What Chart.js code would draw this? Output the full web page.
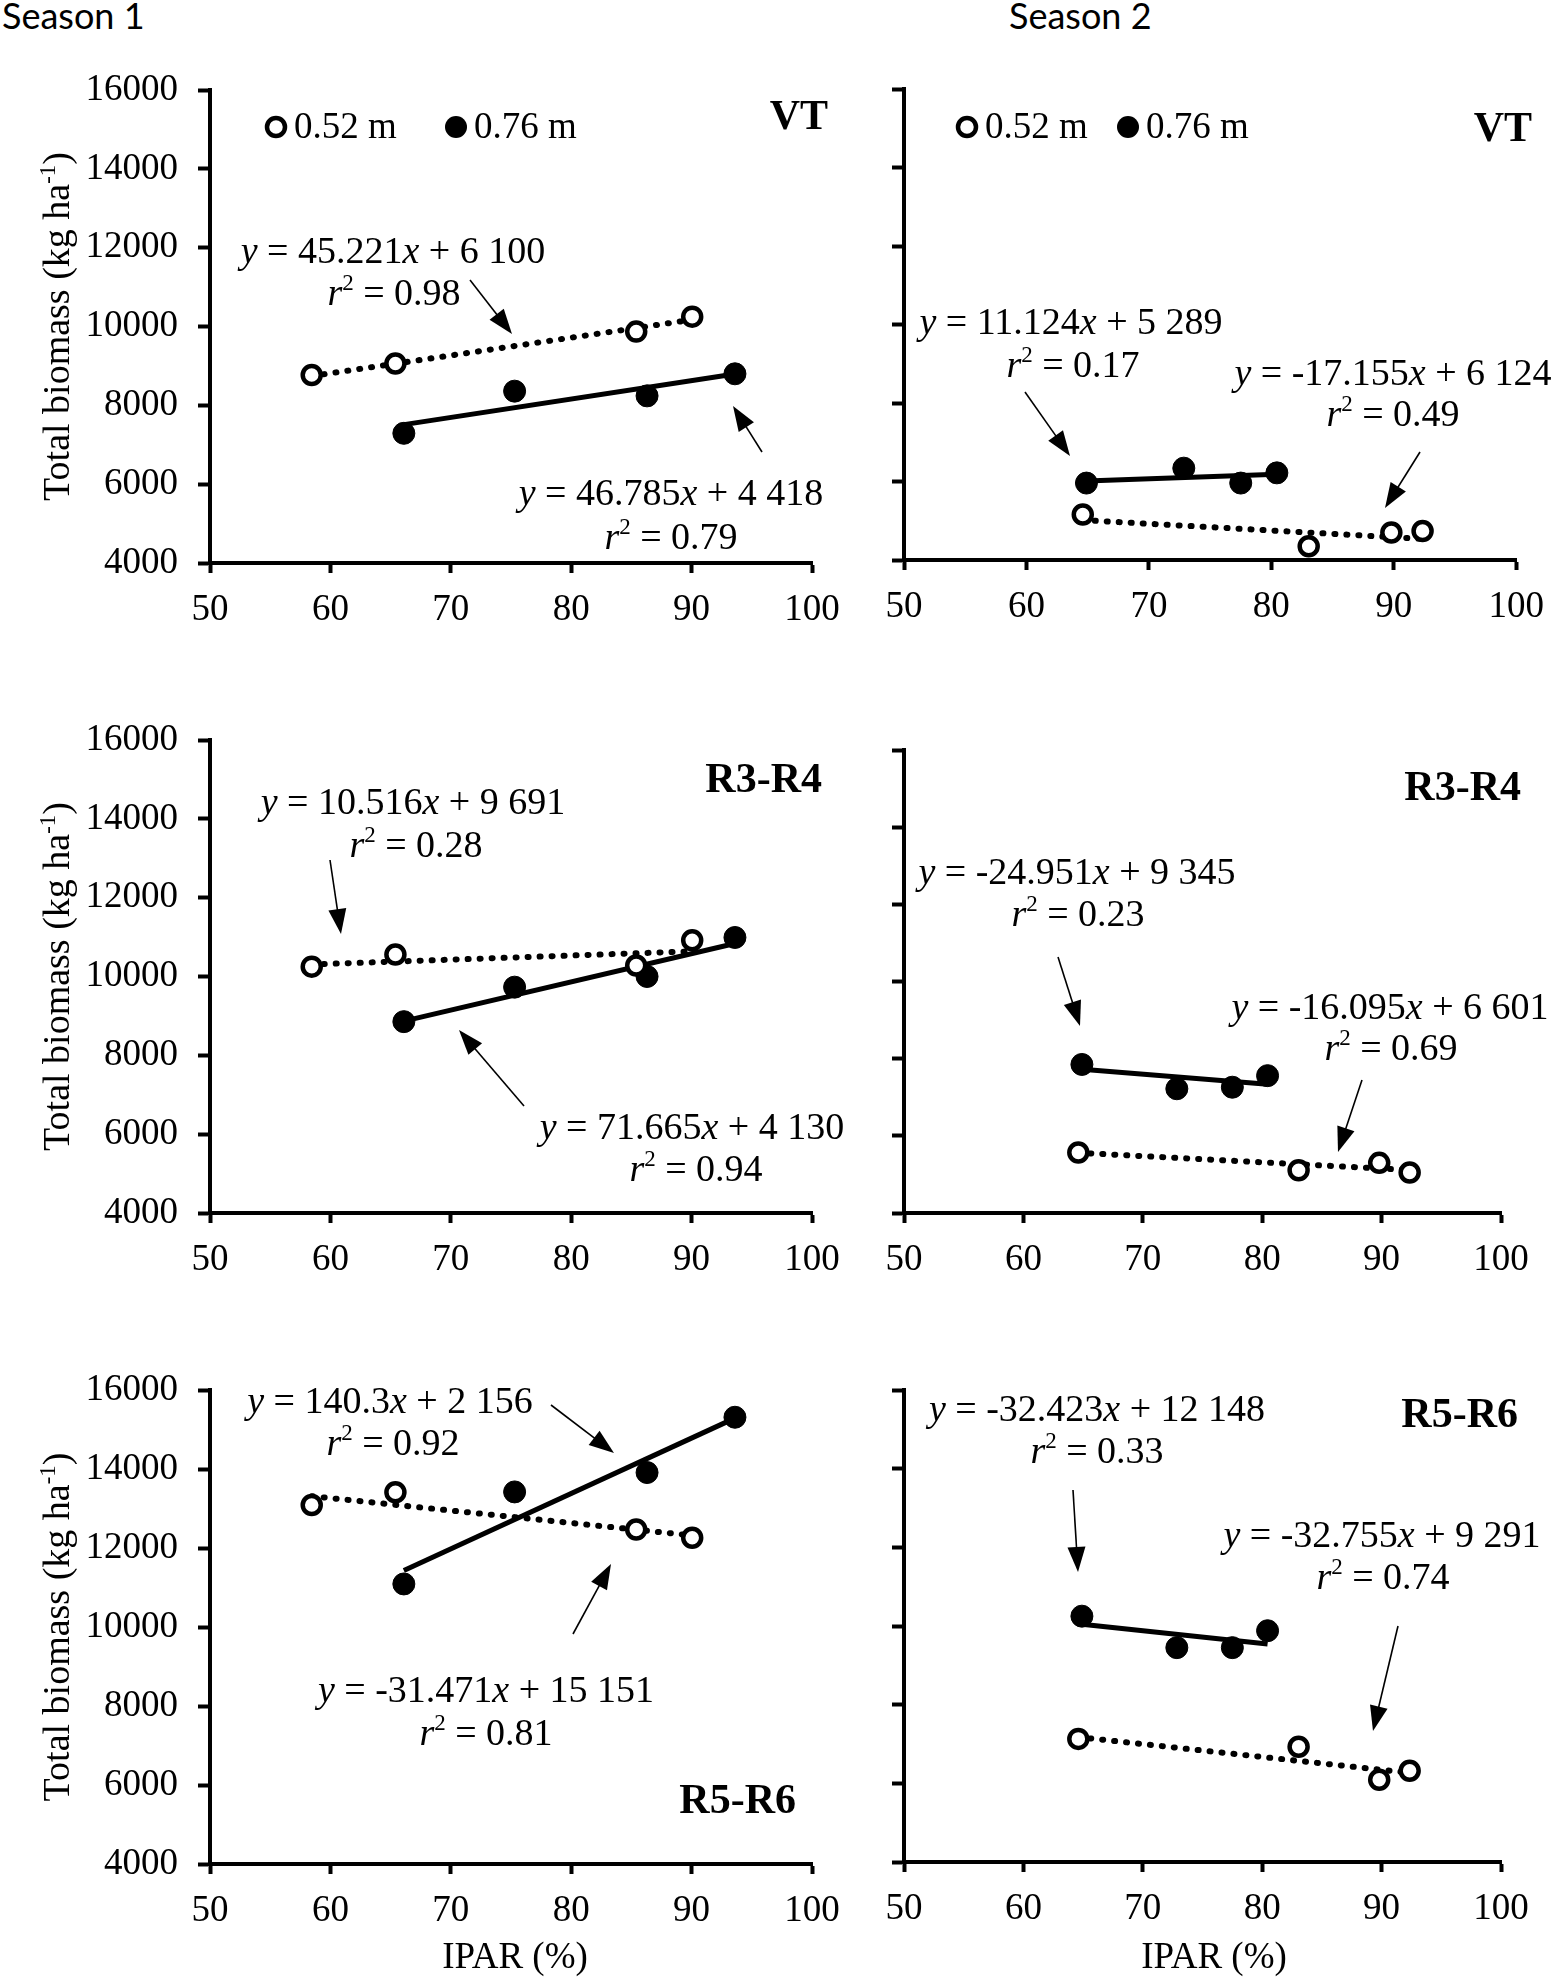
<!DOCTYPE html>
<html>
<head>
<meta charset="utf-8">
<script src="https://cdn.jsdelivr.net/npm/chart.js@4.4.0/dist/chart.umd.min.js"></script>
<style>
  body { margin: 0; background: #fff; width: 1559px; height: 1982px; position: relative; overflow: hidden; }
  .panel { position: absolute; }
  .season { position: absolute; font-family: Lato, "Open Sans", sans-serif; font-size: 36px; line-height: 1; color: #000; }
</style>
</head>
<body>
<div class="season" style="left:2px;top:-3px">Season 1</div>
<div class="season" style="left:1009px;top:-3px">Season 2</div>

<div class="panel" style="left:0;top:0"><canvas id="c1" width="860" height="660"></canvas></div>
<div class="panel" style="left:860px;top:0"><canvas id="c2" width="699" height="660"></canvas></div>
<div class="panel" style="left:0;top:660px"><canvas id="c3" width="860" height="640"></canvas></div>
<div class="panel" style="left:860px;top:660px"><canvas id="c4" width="699" height="640"></canvas></div>
<div class="panel" style="left:0;top:1300px"><canvas id="c5" width="860" height="682"></canvas></div>
<div class="panel" style="left:860px;top:1300px"><canvas id="c6" width="699" height="682"></canvas></div>

<script>
// IPAR (%) por espacamento e safra
const iparS1_052 = [58.45, 65.4, 85.4, 90.05];
const iparS1_076 = [66.1, 75.3, 86.3, 93.6];
const iparS2_052 = [64.6, 83.05, 89.8, 92.35];
const iparS2_076 = [64.9, 72.85, 77.5, 80.45];

// biomassa total (kg ha-1)
const vtS1_052 = [8770, 9060, 9870, 10250];
const vtS1_076 = [7290, 8360, 8240, 8800];
const vtS2_052 = [5160, 4350, 4700, 4740];
const vtS2_076 = [5960, 6340, 5960, 6220];
const r34S1_052 = [10250, 10560, 10280, 10920];
const r34S1_076 = [8855, 9730, 10000, 10990];
const r34S2_052 = [5570, 5110, 5300, 5050];
const r34S2_076 = [7850, 7220, 7260, 7560];
const r56S1_052 = [13090, 13410, 12470, 12260];
const r56S1_076 = [11090, 13420, 13910, 15310];
const r56S2_052 = [7130, 6930, 6090, 6320];
const r56S2_076 = [10250, 9450, 9450, 9880];

// retas de regressao (y no menor e no maior IPAR)
const trVtS1_052 = [8743, 10172];
const trVtS1_076 = [7510, 8797];
const trVtS2_052 = [5016, 4540];
const trVtS2_076 = [6011, 6184];
const trR34S1_052 = [10306, 10638];
const trR34S1_076 = [8867, 10838];
const trR34S2_052 = [5561, 5115];
const trR34S2_076 = [7726, 7338];
const trR56S1_052 = [13312, 12317];
const trR56S1_076 = [11430, 15288];
const trR56S2_052 = [7175, 6266];
const trR56S2_076 = [10044, 9540];

// equacoes
const eqVtS1_052 = ['y = 45.221x + 6 100', 'r² = 0.98'];
const eqVtS1_076 = ['y = 46.785x + 4 418', 'r² = 0.79'];
const eqVtS2_052 = ['y = -17.155x + 6 124', 'r² = 0.49'];
const eqVtS2_076 = ['y = 11.124x + 5 289', 'r² = 0.17'];
const eqR34S1_052 = ['y = 10.516x + 9 691', 'r² = 0.28'];
const eqR34S1_076 = ['y = 71.665x + 4 130', 'r² = 0.94'];
const eqR34S2_052 = ['y = -16.095x + 6 601', 'r² = 0.69'];
const eqR34S2_076 = ['y = -24.951x + 9 345', 'r² = 0.23'];
const eqR56S1_052 = ['y = -31.471x + 15 151', 'r² = 0.81'];
const eqR56S1_076 = ['y = 140.3x + 2 156', 'r² = 0.92'];
const eqR56S2_052 = ['y = -32.755x + 9 291', 'r² = 0.74'];
const eqR56S2_076 = ['y = -32.423x + 12 148', 'r² = 0.33'];

const legendLabels = ['0.52 m', '0.76 m'];
const xTicks = [50, 60, 70, 80, 90, 100];
const yTicks = [4000, 6000, 8000, 10000, 12000, 14000, 16000];

const SERIF = '"Liberation Serif", "Times New Roman", serif';

const panels = [
  { id: 'c1', left: 0, top: 0, w: 860, h: 660, area: { l: 210, r: 812, t: 90, b: 563 }, yLabels: true,
    open: [iparS1_052, vtS1_052, trVtS1_052], filled: [iparS1_076, vtS1_076, trVtS1_076],
    stage: ['VT', 828, 118], legend: [[276, 127], [456, 127]],
    eqs: [
      { lines: eqVtS1_052, at: [[393, 250], [394, 292]], arrow: [470, 280, 512, 334] },
      { lines: eqVtS1_076, at: [[671, 492], [671, 536]], arrow: [762, 452, 733, 406] }
    ] },
  { id: 'c2', left: 860, top: 0, w: 699, h: 660, area: { l: 904, r: 1517, t: 89, b: 560 }, yLabels: false,
    open: [iparS2_052, vtS2_052, trVtS2_052], filled: [iparS2_076, vtS2_076, trVtS2_076],
    stage: ['VT', 1532, 130], legend: [[967, 127], [1128, 127]],
    eqs: [
      { lines: eqVtS2_076, at: [[1071, 321], [1073, 364]], arrow: [1025, 392, 1070, 456] },
      { lines: eqVtS2_052, at: [[1393, 372], [1393, 413]], arrow: [1420, 452, 1385, 508] }
    ] },
  { id: 'c3', left: 0, top: 660, w: 860, h: 640, area: { l: 210, r: 812, t: 740, b: 1213 }, yLabels: true,
    open: [iparS1_052, r34S1_052, trR34S1_052], filled: [iparS1_076, r34S1_076, trR34S1_076],
    stage: ['R3-R4', 822, 781],
    eqs: [
      { lines: eqR34S1_052, at: [[413, 801], [416, 844]], arrow: [330, 860, 341, 934] },
      { lines: eqR34S1_076, at: [[692, 1126], [696, 1168]], arrow: [524, 1106, 459, 1030] }
    ] },
  { id: 'c4', left: 860, top: 660, w: 699, h: 640, area: { l: 904, r: 1501, t: 750, b: 1213 }, yLabels: false,
    open: [iparS2_052, r34S2_052, trR34S2_052], filled: [iparS2_076, r34S2_076, trR34S2_076],
    stage: ['R3-R4', 1521, 789],
    eqs: [
      { lines: eqR34S2_076, at: [[1077, 871], [1078, 913]], arrow: [1058, 957, 1080, 1026] },
      { lines: eqR34S2_052, at: [[1390, 1006], [1391, 1047]], arrow: [1362, 1080, 1338, 1152] }
    ] },
  { id: 'c5', left: 0, top: 1300, w: 860, h: 682, area: { l: 210, r: 812, t: 1390, b: 1864 }, yLabels: true,
    open: [iparS1_052, r56S1_052, trR56S1_052], filled: [iparS1_076, r56S1_076, trR56S1_076],
    stage: ['R5-R6', 796, 1802], xTitle: [515, 1958],
    eqs: [
      { lines: eqR56S1_076, at: [[390, 1400], [393, 1442]], arrow: [551, 1405, 614, 1453] },
      { lines: eqR56S1_052, at: [[486, 1689], [486, 1732]], arrow: [573, 1634, 611, 1564] }
    ] },
  { id: 'c6', left: 860, top: 1300, w: 699, h: 682, area: { l: 904, r: 1501, t: 1390, b: 1862 }, yLabels: false,
    open: [iparS2_052, r56S2_052, trR56S2_052], filled: [iparS2_076, r56S2_076, trR56S2_076],
    stage: ['R5-R6', 1518, 1416], xTitle: [1214, 1958],
    eqs: [
      { lines: eqR56S2_076, at: [[1097, 1408], [1097, 1450]], arrow: [1073, 1490, 1078, 1572] },
      { lines: eqR56S2_052, at: [[1382, 1534], [1383, 1576]], arrow: [1398, 1626, 1373, 1731] }
    ] }
];

// texto com y, x, r em italico e ² sobrescrito
function drawRich(ctx, str, cx, cy, size) {
  const runs = [];
  for (const ch of str) {
    let st = 'n';
    if (ch === 'x' || ch === 'y' || ch === 'r') st = 'i';
    if (ch === '²') st = 's';
    const t = st === 's' ? '2' : ch;
    if (runs.length && runs[runs.length - 1].st === st) runs[runs.length - 1].t += t;
    else runs.push({ st: st, t: t });
  }
  const fontOf = st => st === 'i' ? `italic ${size}px ${SERIF}` :
    st === 's' ? `${Math.round(size * 0.6)}px ${SERIF}` : `${size}px ${SERIF}`;
  let w = 0;
  runs.forEach(r => { ctx.font = fontOf(r.st); r.w = ctx.measureText(r.t).width; w += r.w; });
  let x = cx - w / 2;
  const base = cy + size * 0.33;
  ctx.textAlign = 'left';
  ctx.textBaseline = 'alphabetic';
  runs.forEach(r => {
    ctx.font = fontOf(r.st);
    ctx.fillText(r.t, x, r.st === 's' ? base - size * 0.38 : base);
    x += r.w;
  });
}

function drawArrow(ctx, x1, y1, x2, y2) {
  const ang = Math.atan2(y2 - y1, x2 - x1);
  const len = 25, hw = 9;
  ctx.lineWidth = 1.6;
  ctx.beginPath();
  ctx.moveTo(x1, y1);
  ctx.lineTo(x2 - Math.cos(ang) * len * 0.8, y2 - Math.sin(ang) * len * 0.8);
  ctx.stroke();
  ctx.beginPath();
  ctx.moveTo(x2, y2);
  ctx.lineTo(x2 - Math.cos(ang) * len + Math.sin(ang) * hw, y2 - Math.sin(ang) * len - Math.cos(ang) * hw);
  ctx.lineTo(x2 - Math.cos(ang) * len - Math.sin(ang) * hw, y2 - Math.sin(ang) * len + Math.cos(ang) * hw);
  ctx.closePath();
  ctx.fill();
}

function marker(ctx, x, y, open) {
  ctx.beginPath();
  if (open) {
    ctx.arc(x, y, 9, 0, Math.PI * 2);
    ctx.fillStyle = '#fff';
    ctx.fill();
    ctx.lineWidth = 4.5;
    ctx.strokeStyle = '#000';
    ctx.stroke();
  } else {
    ctx.arc(x, y, 11, 0, Math.PI * 2);
    ctx.fillStyle = '#000';
    ctx.fill();
  }
}

function makeDecor(p) {
  return {
    id: 'decor' + p.id,
    afterDraw(chart) {
      const ctx = chart.ctx;
      ctx.save();
      ctx.translate(-p.left, -p.top);
      ctx.fillStyle = '#000';
      ctx.strokeStyle = '#000';

      // titulo do eixo y
      if (p.yLabels) {
        const cy = (p.area.t + p.area.b) / 2;
        ctx.save();
        ctx.translate(69, cy);
        ctx.rotate(-Math.PI / 2);
        const f = 38;
        const parts = [['Total biomass (kg ha', f, 0], ['-1', Math.round(f * 0.6), -f * 0.38], [')', f, 0]];
        let w = 0;
        parts.forEach(pt => { ctx.font = `${pt[1]}px ${SERIF}`; pt.push(ctx.measureText(pt[0]).width); w += pt[3]; });
        let x = -w / 2;
        ctx.textAlign = 'left';
        ctx.textBaseline = 'alphabetic';
        parts.forEach(pt => { ctx.font = `${pt[1]}px ${SERIF}`; ctx.fillText(pt[0], x, pt[2]); x += pt[3]; });
        ctx.restore();
      }

      // titulo do eixo x
      if (p.xTitle) {
        ctx.font = `37px ${SERIF}`;
        ctx.textAlign = 'center';
        ctx.textBaseline = 'middle';
        ctx.fillText('IPAR (%)', p.xTitle[0], p.xTitle[1]);
      }

      // estadio
      ctx.font = `bold 42px ${SERIF}`;
      ctx.textAlign = 'right';
      ctx.textBaseline = 'middle';
      ctx.fillText(p.stage[0], p.stage[1], p.stage[2]);

      // legenda
      if (p.legend) {
        p.legend.forEach((pos, i) => {
          marker(ctx, pos[0], pos[1], i === 0);
          ctx.fillStyle = '#000';
          ctx.font = `37px ${SERIF}`;
          ctx.textAlign = 'left';
          ctx.textBaseline = 'middle';
          ctx.fillText(legendLabels[i], pos[0] + 18, pos[1] + 1);
        });
      }

      // equacoes e setas
      ctx.fillStyle = '#000';
      p.eqs.forEach(e => {
        e.lines.forEach((ln, i) => drawRich(ctx, ln, e.at[i][0], e.at[i][1], 38));
        drawArrow(ctx, e.arrow[0], e.arrow[1], e.arrow[2], e.arrow[3]);
      });
      ctx.restore();
    }
  };
}

function pts(xs, ys) {
  return xs.map((x, i) => ({ x: x, y: ys[i] }));
}
function trend(xs, t) {
  return [{ x: Math.min(...xs), y: t[0] }, { x: Math.max(...xs), y: t[1] }];
}

panels.forEach(p => {
  const yWidth = p.area.l - p.left;
  const xHeight = p.top + p.h - p.area.b;
  new Chart(document.getElementById(p.id), {
    type: 'scatter',
    data: {
      datasets: [
        { data: pts(p.open[0], p.open[1]), pointRadius: 9, pointBorderWidth: 4.5,
          pointBackgroundColor: '#fff', pointBorderColor: '#000', order: 0 },
        { data: pts(p.filled[0], p.filled[1]), pointRadius: 11, pointBorderWidth: 1,
          pointBackgroundColor: '#000', pointBorderColor: '#000', order: 0 },
        { data: trend(p.open[0], p.open[2]), showLine: true, pointRadius: 0, borderColor: '#000',
          borderWidth: 6, borderDash: [1, 11], borderCapStyle: 'round', order: 1 },
        { data: trend(p.filled[0], p.filled[2]), showLine: true, pointRadius: 0, borderColor: '#000',
          borderWidth: 5, order: 1 }
      ]
    },
    options: {
      responsive: false,
      animation: false,
      devicePixelRatio: 1,
      layout: { padding: { left: 0, right: p.left + p.w - p.area.r, top: p.area.t - p.top, bottom: 0 } },
      plugins: { legend: { display: false }, tooltip: { enabled: false } },
      scales: {
        x: {
          type: 'linear', min: 50, max: 100,
          afterBuildTicks: s => { s.ticks = xTicks.map(v => ({ value: v })); },
          afterFit: s => { s.height = xHeight; },
          ticks: { color: '#000', padding: 15, font: { family: SERIF, size: 37 }, callback: v => String(v), maxRotation: 0 },
          grid: { drawOnChartArea: false, tickLength: 10, tickWidth: 4, tickColor: '#000' },
          border: { display: true, color: '#000', width: 4 }
        },
        y: {
          type: 'linear', min: 4000, max: 16000,
          afterBuildTicks: s => { s.ticks = yTicks.map(v => ({ value: v })); },
          afterFit: s => { s.width = yWidth; },
          ticks: { display: p.yLabels, color: '#000', padding: 20, font: { family: SERIF, size: 37 }, callback: v => String(v) },
          grid: { drawOnChartArea: false, tickLength: 12, tickWidth: 4, tickColor: '#000' },
          border: { display: true, color: '#000', width: 4 }
        }
      }
    },
    plugins: [makeDecor(p)]
  });
});
</script>
</body>
</html>
